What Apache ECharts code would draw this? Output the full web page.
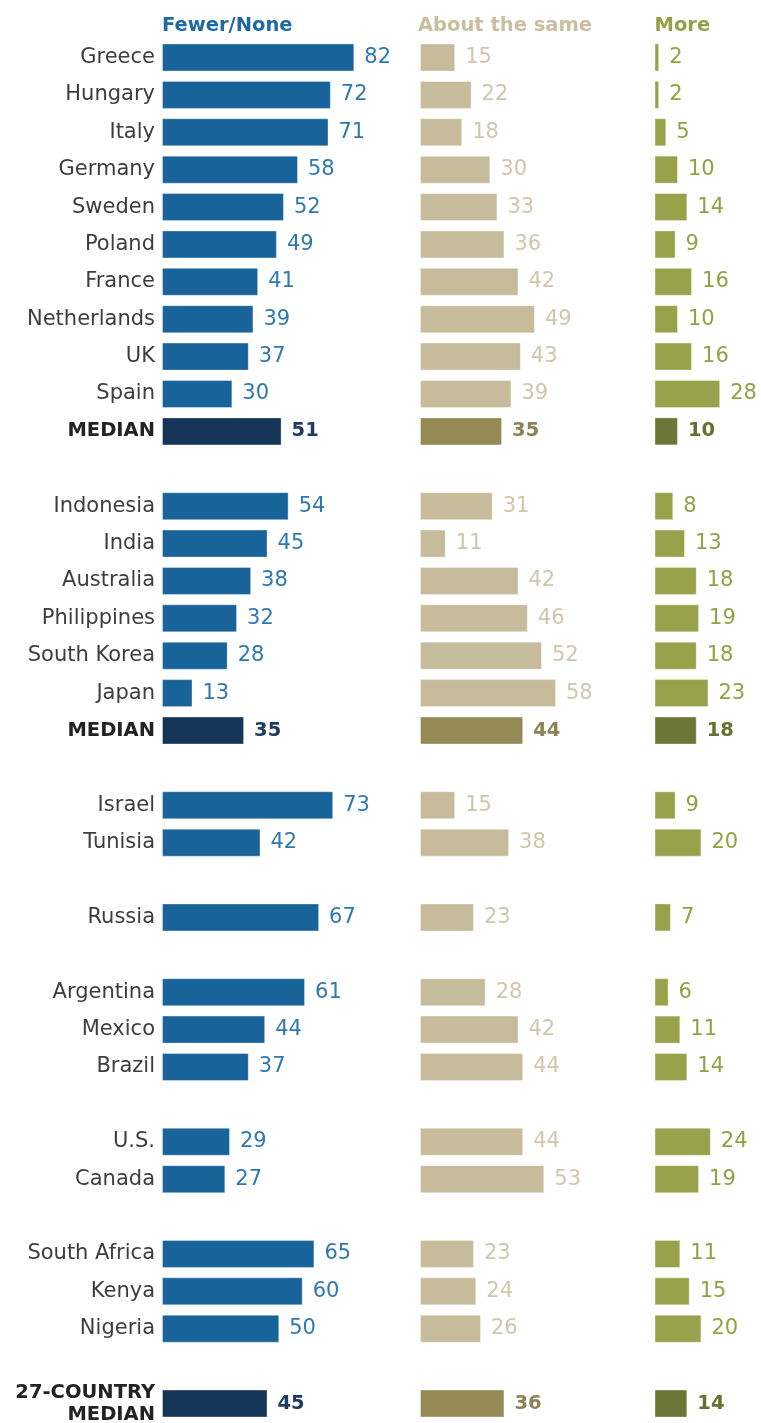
<!DOCTYPE html>
<html>
<head>
<meta charset="utf-8">
<script src="https://cdn.jsdelivr.net/npm/echarts@6/dist/echarts.min.js"></script>
<style>
  html, body { margin: 0; padding: 0; background: #fff; }
  #chart { width: 761px; height: 1423px; }
</style>
</head>
<body>
<div id="chart"></div>
<script>
// rows top to bottom, '' = gap between regions
var categories = [
  'Greece', 'Hungary', 'Italy', 'Germany', 'Sweden', 'Poland', 'France', 'Netherlands', 'UK', 'Spain', 'MEDIAN', '',
  'Indonesia', 'India', 'Australia', 'Philippines', 'South Korea', 'Japan', 'MEDIAN', '',
  'Israel', 'Tunisia', '',
  'Russia', '',
  'Argentina', 'Mexico', 'Brazil', '',
  'U.S.', 'Canada', '',
  'South Africa', 'Kenya', 'Nigeria', '',
  '27-COUNTRY\nMEDIAN'
];
var fewerNone = [82, 72, 71, 58, 52, 49, 41, 39, 37, 30, 51, null, 54, 45, 38, 32, 28, 13, 35, null, 73, 42, null, 67, null, 61, 44, 37, null, 29, 27, null, 65, 60, 50, null, 45];
var aboutSame = [15, 22, 18, 30, 33, 36, 42, 49, 43, 39, 35, null, 31, 11, 42, 46, 52, 58, 44, null, 15, 38, null, 23, null, 28, 42, 44, null, 44, 53, null, 23, 24, 26, null, 36];
var more = [2, 2, 5, 10, 14, 9, 16, 10, 16, 28, 10, null, 8, 13, 18, 19, 18, 23, 18, null, 9, 20, null, 7, null, 6, 11, 14, null, 24, 19, null, 11, 15, 20, null, 14];
var headers = ['Fewer/None', 'About the same', 'More'];

var FONT = 'DejaVu Sans';
var palettes = [
  { bar: '#18649a', label: '#2f78b0', mBar: '#163659', mLabel: '#1d3b63', head: '#1f6aa2' },
  { bar: '#c6bc9b', label: '#cfc6ab', mBar: '#958a56', mLabel: '#8c8253', head: '#c9bf9f' },
  { bar: '#97a24a', label: '#93a044', mBar: '#6c7636', mLabel: '#66712f', head: '#93a044' }
];
var lefts = [162, 420, 654.5];
var gridTop = 38.8, gridHeight = 1383.4, gridWidth = 234.5;

function isMedian(i) {
  return categories[i].indexOf('MEDIAN') >= 0;
}

function buildData(values, pal) {
  return values.map(function (v, i) {
    if (v == null) return { value: null };
    var med = isMedian(i);
    return {
      value: v,
      itemStyle: {
        color: med ? pal.mBar : pal.bar,
        borderColor: 'rgba(255,255,255,0.35)',
        borderWidth: 1
      },
      label: {
        color: med ? pal.mLabel : pal.label,
        fontWeight: med ? 'bold' : 'normal',
        fontSize: med ? 19.5 : 21
      }
    };
  });
}

var allValues = [fewerNone, aboutSame, more];
var grids = [], xAxes = [], yAxes = [], series = [];
allValues.forEach(function (vals, k) {
  grids.push({ left: lefts[k], top: gridTop, width: gridWidth, height: gridHeight, outerBoundsMode: 'none', containLabel: false });
  xAxes.push({ type: 'value', gridIndex: k, min: 0, max: 100, show: false });
  yAxes.push({
    type: 'category',
    gridIndex: k,
    inverse: true,
    data: categories,
    axisLine: { show: false },
    axisTick: { show: false },
    splitLine: { show: false },
    axisLabel: {
      show: k === 0,
      margin: 7,
      fontFamily: FONT,
      fontSize: 21,
      color: '#3d3d3d',
      formatter: function (val) {
        if (val.indexOf('MEDIAN') >= 0) {
          return val.split('\n').map(function (s) { return '{b|' + s + '}'; }).join('\n');
        }
        return val;
      },
      rich: {
        b: { fontFamily: FONT, fontWeight: 'bold', fontSize: 19.5, color: '#222', lineHeight: 22 }
      }
    }
  });
  series.push({
    type: 'bar',
    name: headers[k],
    xAxisIndex: k,
    yAxisIndex: k,
    barWidth: 28,
    data: buildData(vals, palettes[k]),
    label: {
      show: true,
      position: 'right',
      distance: 10,
      fontFamily: FONT
    }
  });
});

var chart = echarts.init(document.getElementById('chart'));
chart.setOption({
  animation: false,
  grid: grids,
  xAxis: xAxes,
  yAxis: yAxes,
  graphic: headers.map(function (h, k) {
    return {
      type: 'text',
      left: lefts[k] - (k === 1 ? 2 : 0),
      top: 16,
      style: {
        text: h,
        fontFamily: FONT,
        fontWeight: 'bold',
        fontSize: 19.5,
        fill: palettes[k].head
      }
    };
  }),
  series: series
});
</script>
</body>
</html>
